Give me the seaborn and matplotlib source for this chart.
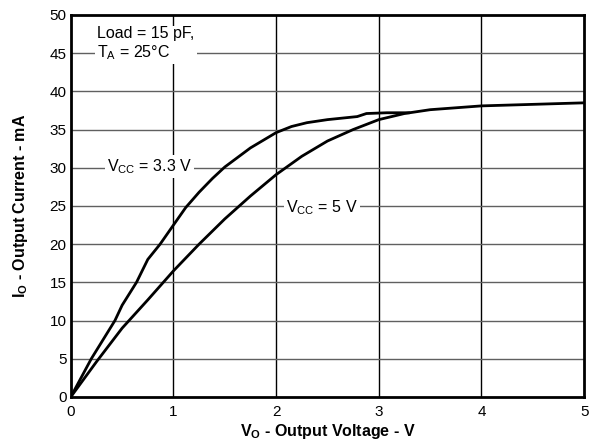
import numpy as np
import pandas as pd
import seaborn as sns
import matplotlib.pyplot as plt

# Output current vs output voltage
v33 = [0, 0.2, 0.43, 0.5, 0.64, 0.75, 0.87, 1.0, 1.12, 1.25, 1.38, 1.5, 1.75, 2.0, 2.15, 2.3, 2.5, 2.79, 2.88, 3.08, 3.3]
i33 = [0, 5, 10, 12, 15, 18, 20, 22.5, 24.8, 26.8, 28.6, 30.1, 32.6, 34.6, 35.4, 35.9, 36.3, 36.7, 37.1, 37.2, 37.2]
v5 = [0, 0.25, 0.5, 0.75, 1.0, 1.25, 1.5, 1.75, 2.0, 2.25, 2.5, 2.75, 3.0, 3.25, 3.5, 4.0, 4.5, 5.0]
i5 = [0, 4.6, 9.0, 12.7, 16.5, 20, 23.3, 26.3, 29.1, 31.5, 33.5, 35.0, 36.3, 37.1, 37.6, 38.1, 38.3, 38.5]

sns.set_style("white")
plt.rcParams['font.family'] = ['Liberation Sans', 'DejaVu Sans']
plt.rcParams['text.color'] = 'black'
plt.rcParams['axes.labelcolor'] = 'black'
plt.rcParams['xtick.color'] = 'black'
plt.rcParams['ytick.color'] = 'black'

df = pd.concat([
    pd.DataFrame({'V': v33, 'I': i33, 'Vcc': '3.3 V'}),
    pd.DataFrame({'V': v5, 'I': i5, 'Vcc': '5 V'}),
])

fig = plt.figure(figsize=(5.9, 4.41), dpi=100)
ax = fig.add_axes([0.120, 0.100, 0.870, 0.866])

# grid
for x in [1, 2, 3, 4]:
    ax.axvline(x, color='black', lw=1, zorder=1)
for y in range(5, 50, 5):
    ax.axhline(y, color='#606060', lw=1, zorder=1)

sns.lineplot(data=df, x='V', y='I', hue='Vcc', palette=['black', 'black'],
             linewidth=2, legend=False, ax=ax, zorder=3, sort=False)

ax.set_xlim(0, 5)
ax.set_ylim(0, 50)
ax.set_xticks(range(0, 6))
ax.set_yticks(range(0, 55, 5))
ax.tick_params(axis='both', labelsize=11, length=0)
ax.tick_params(axis='y', pad=3)
ax.tick_params(axis='x', pad=6)
for s in ax.spines.values():
    s.set_linewidth(2)
    s.set_color('black')

ax.set_xlabel(r'V$_\mathregular{O}$ - Output Voltage - V', fontsize=11.5, fontweight='bold', labelpad=2)
ax.set_ylabel(r'I$_\mathregular{O}$ - Output Current - mA', fontsize=11.5, fontweight='bold', labelpad=14)

box = dict(facecolor='white', edgecolor='none', pad=1.5)
ax.text(0.26, 46.2, 'Load = 15 pF,\n' + r'T$_\mathregular{A}$ = 25°C', fontsize=11.5,
        ha='left', va='center', bbox=box, zorder=4, linespacing=1.15)
ax.text(0.77, 30.2, r'V$_\mathregular{CC}$ = 3.3 V', fontsize=11.5, ha='center', va='center',
        bbox=box, zorder=4)
ax.text(2.45, 24.8, r'V$_\mathregular{CC}$ = 5 V', fontsize=11.5, ha='center', va='center',
        bbox=box, zorder=4)

plt.savefig('out.png', dpi=100)
